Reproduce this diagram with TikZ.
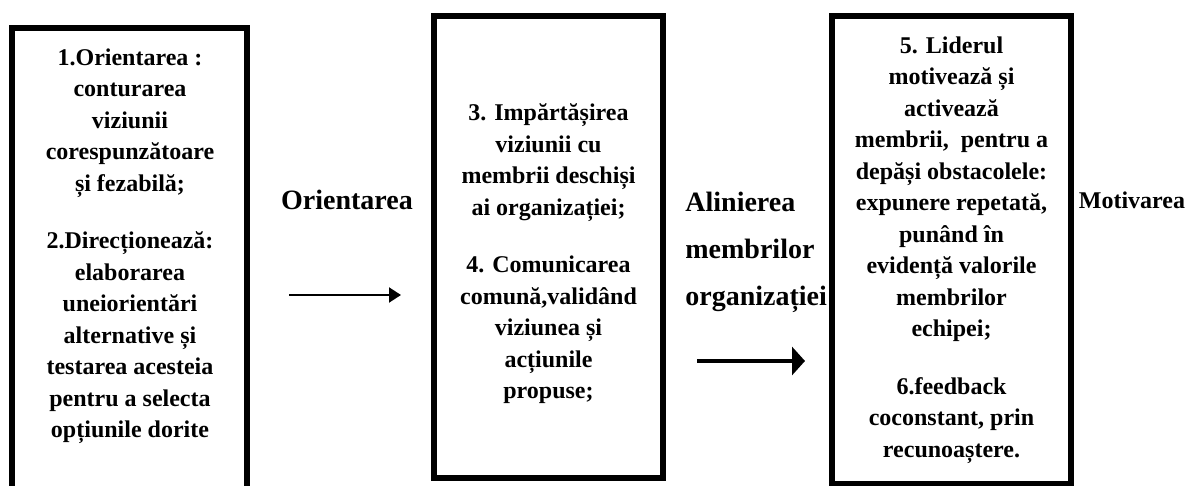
\documentclass[tikz,border=0pt]{standalone}
\usepackage{fontspec}
\setmainfont{Liberation Serif}
\usetikzlibrary{arrows.meta}

\begin{document}
\begin{tikzpicture}[x=0.5pt,y=-0.5pt,
box/.style={draw,line width=3pt,rectangle,inner sep=0pt},
txt/.style={align=center,font=\fontsize{12}{15.75}\selectfont\bfseries},
lbl/.style={font=\fontsize{14}{23.5}\selectfont\bfseries,inner sep=0pt}]
\useasboundingbox (0,0) rectangle (1189,486);
\clip (0,0) rectangle (1189,486);

\node (lead) [box,minimum width=117.5pt,minimum height=260pt,anchor=north] at (129.5,25) {};
\node (leadtxt) [txt] at (130,246) {1.Orientarea :\\ conturarea\\ viziunii\\ corespunzătoare\\ și fezabilă;\\[13pt]
    2.Direcționează:\\ elaborarea\\ uneiorientări\\ alternative și\\ testarea acesteia\\ pentru a selecta\\ opțiunile dorite};

\node (share) [box,minimum width=114.5pt,minimum height=231pt] at (548.5,247) {};
\node (sharetxt) [txt] at (548.5,254) {3. Impărtășirea\\ viziunii cu\\ membrii deschiși\\ ai organizației;\\[13pt]
    4. Comunicarea\\ comună,validând\\ viziunea și\\ acțiunile\\ propuse;};

\node (motiv) [box,txt,minimum width=119.5pt,minimum height=234pt] at (951.5,250) {5. Liderul\\ motivează și\\ activează\\ membrii, \ pentru a\\ depăși obstacolele:\\ expunere repetată,\\ punând în\\ evidență valorile\\ membrilor\\ echipei;\\[13pt]
    6.feedback\\ coconstant, prin\\ recunoaștere.};

\node (orl) [lbl] at (347,200) {Orientarea};
\node (aln) [lbl,align=left,anchor=west] at (685,252) {Alinierea\\ membrilor\\ organizației};
\node (mot) [lbl,font=\fontsize{12}{15}\selectfont\bfseries] at (1132,200) {Motivarea};

\coordinate (a1s) at (289,295);
\coordinate (a1e) at (401,295);
\draw[line width=1pt,-{Triangle[length=6pt,width=7.5pt]}] (a1s) -- (a1e);
\coordinate (a2s) at (697,361);
\coordinate (a2e) at (805,361);
\draw[line width=2pt,-{Triangle[length=6.5pt,width=14pt]}] (a2s) -- (a2e);
\end{tikzpicture}
\end{document}
